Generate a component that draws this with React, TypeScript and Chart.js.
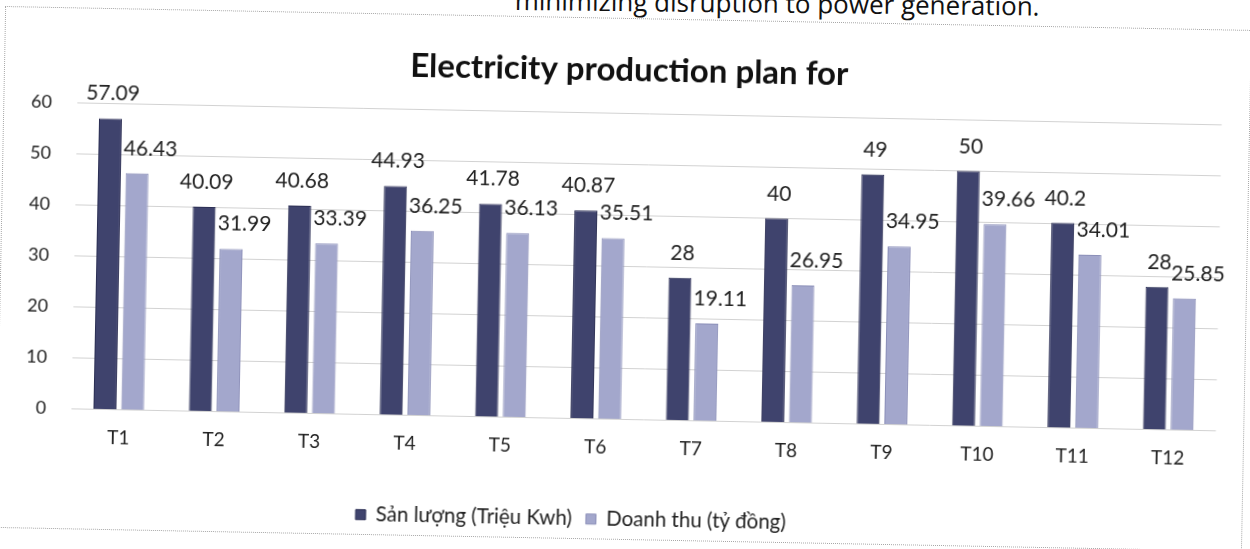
import React, { useEffect, useRef } from "react";
import { Chart, registerables } from "chart.js";

Chart.register(...registerables);

const categories = ["T1", "T2", "T3", "T4", "T5", "T6", "T7", "T8", "T9", "T10", "T11", "T12"];
const sanLuong = [57.09, 40.09, 40.68, 44.93, 41.78, 40.87, 28, 40, 49, 50, 40.2, 28];
const doanhThu = [46.43, 31.99, 33.39, 36.25, 36.13, 35.51, 19.11, 26.95, 34.95, 39.66, 34.01, 25.85];
const seriesNames = ["Sản lượng (Triệu Kwh)", "Doanh thu (tỷ đồng)"];
const yMin = 0;
const yMax = 60;
const yStep = 10;
const titleText = "Electricity production plan for";
const headerText = "minimizing disruption to power generation.";

const FONT = "Lato, 'Open Sans', sans-serif";

const valueLabels = {
  id: "valueLabels",
  afterDatasetsDraw(chart: any) {
    const ctx = chart.ctx;
    ctx.save();
    ctx.font = `21px ${FONT}`;
    ctx.fillStyle = "#222";
    ctx.textAlign = "center";
    ctx.textBaseline = "alphabetic";
    chart.data.datasets.forEach((ds: any, di: number) => {
      const meta = chart.getDatasetMeta(di);
      meta.data.forEach((el: any, i: number) => {
        const dx = di === 0 ? 2 : 13;
        ctx.fillText(String(ds.data[i]), el.x + dx, el.y - 18);
      });
    });
    ctx.restore();
  },
};

const blockShift = {
  id: "blockShift",
  afterLayout(chart: any) {
    const lg = chart.legend;
    if (lg) {
      lg.left -= 34;
      lg.right -= 34;
    }
    const tb = chart.titleBlock;
    if (tb) {
      tb.left += 16;
      tb.right += 16;
    }
  },
};

export default function App() {
  const ref = useRef<HTMLCanvasElement | null>(null);

  useEffect(() => {
    if (!ref.current) return;
    const chart = new Chart(ref.current, {
      type: "bar",
      data: {
        labels: categories,
        datasets: [
          {
            label: seriesNames[0],
            data: sanLuong,
            backgroundColor: "#3f436d",
            borderColor: "#2c2f54",
            borderWidth: 1,
            barPercentage: 0.83,
            categoryPercentage: 0.58,
          },
          {
            label: seriesNames[1],
            data: doanhThu,
            backgroundColor: "#a3a7cc",
            borderColor: "#8b8fb8",
            borderWidth: 1,
            barPercentage: 0.83,
            categoryPercentage: 0.58,
          },
        ],
      },
      options: {
        responsive: false,
        animation: false,
        devicePixelRatio: 1,
        layout: { padding: { left: 0, right: 28.4, top: 0, bottom: 0 } },
        plugins: {
          title: {
            display: true,
            text: titleText,
            color: "#111",
            font: { family: FONT, size: 33, weight: "bold" },
            padding: { top: 23.2, bottom: 23.8 },
          },
          legend: {
            position: "bottom",
            labels: {
              boxWidth: 10,
              boxHeight: 10,
              padding: 14,
              color: "#222",
              font: { family: FONT, size: 20.5 },
            },
          },
          tooltip: { enabled: false },
        },
        scales: {
          x: {
            grid: { display: false, drawTicks: false },
            border: { display: false },
            ticks: { color: "#222", font: { family: FONT, size: 19 }, padding: 17 },
            afterFit: (s: any) => {
              s.height = 76;
            },
          },
          y: {
            min: yMin,
            max: yMax,
            ticks: {
              stepSize: yStep,
              color: "#222",
              font: { family: FONT, size: 18 },
              padding: 25,
            },
            grid: { color: "#d2d2d2", drawTicks: false },
            border: { display: false },
            afterFit: (s: any) => {
              s.width = 73.6;
            },
          },
        },
      },
      plugins: [valueLabels, blockShift],
    });
    return () => chart.destroy();
  }, []);

  return (
    <div
      style={{
        position: "fixed",
        left: 0,
        top: 0,
        width: 1250,
        height: 549,
        overflow: "hidden",
        background: "#fff",
      }}
    >
      <div
        style={{
          position: "absolute",
          left: 515,
          top: -18,
          fontFamily: "'Open Sans', sans-serif",
          fontSize: 26,
          color: "#111",
          whiteSpace: "nowrap",
          transform: "rotate(0.6deg)",
          transformOrigin: "0 0",
        }}
      >
        {headerText}
      </div>
      <div
        style={{
          position: "absolute",
          left: 5,
          top: 15,
          width: 1247,
          height: 513,
          transform: "rotate(1.1deg)",
          transformOrigin: "0 0",
        }}
      >
        <div
          style={{
            position: "absolute",
            left: 0,
            top: -9,
            width: 1247,
            height: 522,
            boxSizing: "border-box",
            border: "1px dotted #a8a8a8",
          }}
        />
        <canvas
          ref={ref}
          width={1247}
          height={513}
          style={{ position: "absolute", left: 0, top: 0, width: 1247, height: 513 }}
        />
      </div>
    </div>
  );
}
